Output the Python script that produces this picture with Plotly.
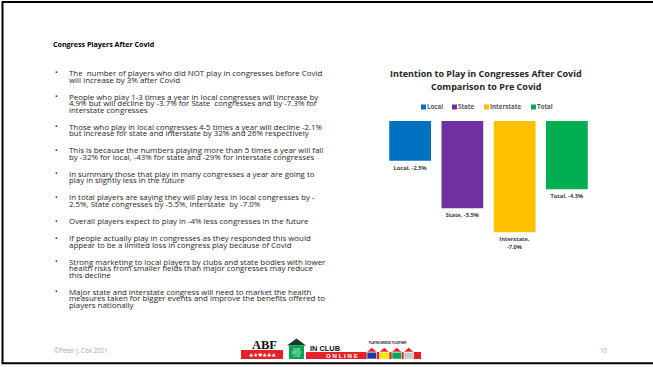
import plotly.graph_objects as go

W, H = 653, 367

# ---- chart data -------------------------------------------------------
categories = ["Local", "State", "Interstate", "Total"]
change_pct = [-2.5, -5.5, -7.0, -4.3]
bar_colors = ["#0070C0", "#7030A0", "#FFC000", "#00B050"]

chart_title = ["Intention to Play in Congresses After Covid", "Comparison to Pre Covid"]

# ---- slide text -------------------------------------------------------
slide_heading = "Congress Players After Covid"
bullets = [
    ["The  number of players who did NOT play in congresses before Covid",
     "will increase by 3% after Covid"],
    ["People who play 1-3 times a year in local congresses will increase by",
     "4.9% but will decline by -3.7% for State  congresses and by -7.3% for",
     "interstate congresses"],
    ["Those who play in local congresses 4-5 times a year will decline -2.1%",
     "but increase for state and interstate by 32% and 26% respectively"],
    ["This is because the numbers playing more than 5 times a year will fall",
     "by -32% for local, -43% for state and -29% for interstate congresses"],
    ["In summary those that play in many congresses a year are going to",
     "play in slightly less in the future"],
    ["In total players are saying they will play less in local congresses by -",
     "2.5%, State congresses by -5.5%, interstate  by -7.0%"],
    ["Overall players expect to play in -4% less congresses in the future"],
    ["If people actually play in congresses as they responded this would",
     "appear to be a limited loss in congress play because of Covid"],
    ["Strong marketing to local players by clubs and state bodies with lower",
     "health risks from smaller fields than major congresses may reduce",
     "this decline"],
    ["Major state and interstate congress will need to market the health",
     "measures taken for bigger events and improve the benefits offered to",
     "players nationally"],
]
footer_left = "©Peter J. Cox 2021"
page_number = "10"

BODY_FONT = "Open Sans, Noto Sans, sans-serif"
CHART_FONT = "Open Sans, Noto Sans, sans-serif"


def px(x):
    return x / W


def py(y):
    return 1 - y / H


annotations = []
shapes = []


def text(x, y, s, size, color="#262626", anchor="left", family=BODY_FONT, **kw):
    if anchor == "left":
        x -= 2.5  # annotation box padding
    annotations.append(dict(
        x=px(x), y=py(y), xref="paper", yref="paper", text=s, showarrow=False,
        xanchor=anchor, yanchor="middle",
        font=dict(family=family, size=size, color=color), **kw))


def rect(x0, y0, x1, y1, fill, line_color=None, line_width=0):
    shapes.append(dict(
        type="rect", xref="paper", yref="paper",
        x0=px(x0), x1=px(x1), y0=py(y1), y1=py(y0),
        fillcolor=fill, line=dict(color=line_color or fill, width=line_width)))


def poly(points, fill, line_color=None, line_width=0):
    path = "M " + " L ".join(f"{px(x)},{py(y)}" for x, y in points) + " Z"
    shapes.append(dict(
        type="path", xref="paper", yref="paper", path=path,
        fillcolor=fill, line=dict(color=line_color or fill, width=line_width)))


# ---- bar chart --------------------------------------------------------
labels = []
for name, v in zip(categories, change_pct):
    sep = ",<br>" if len(name) > 6 else ", "
    labels.append(f"<b>{name}{sep}{v:.1f}%</b>")

fig = go.Figure(go.Bar(
    x=categories, y=change_pct, width=0.8,
    marker=dict(color=bar_colors, line=dict(width=0)),
    text=labels, textposition="outside", cliponaxis=False,
    constraintext="none",
    textfont=dict(family=CHART_FONT, size=5.7, color="#404040"),
    hoverinfo="skip", showlegend=False,
))

# ---- chart title and legend ------------------------------------------
text(486, 73.5, f"<b>{chart_title[0]}</b>", 9, color="#262626", anchor="center",
     family=CHART_FONT)
text(486, 86, f"<b>{chart_title[1]}</b>", 9, color="#262626", anchor="center",
     family=CHART_FONT)

legend_x = [421, 452, 484, 531]
for lx, name, col in zip(legend_x, categories, bar_colors):
    rect(lx, 104.5, lx + 5, 109.5, col)
    text(lx + 6.5, 107, f"<b>{name}</b>", 6.2, color="#595959", family=CHART_FONT)

# ---- slide text -------------------------------------------------------
text(53, 44, f"<b>{slide_heading}</b>", 7.1, color="#000000")

LINE = 6.5
GAP = 17.1
y = 73
for para in bullets:
    text(55, y, "•", 7, color="#262626")
    for i, line in enumerate(para):
        text(69, y, line, 7.9, color="#262626")
        if i < len(para) - 1:
            y += LINE
    y += GAP

# ---- footer -----------------------------------------------------------
text(54, 350, footer_left, 6.2, color="#A6A6A6")
text(600, 350, page_number, 6.2, color="#A6A6A6")

# logo: ABF block
text(264.5, 345, "<b>ABF</b>", 12.5, color="#111111", anchor="center",
     family="Liberation Serif, DejaVu Serif, serif")
rect(241, 350, 283, 359, "#E42228")
text(262, 354.6, "♣♦♥♠♣♠", 5, color="#FFFFFF", anchor="center",
     family="DejaVu Sans, sans-serif")
# house with club badge
poly([(287, 345.5), (296.5, 338.5), (306, 345.5)], "#1B3B22")
rect(289, 345.5, 304, 359, "#00A651")
text(296.5, 350, "YOUR", 2.6, color="#FFFFFF", anchor="center")
text(296.5, 353, "BRIDGE", 2.6, color="#FFFFFF", anchor="center")
text(296.5, 356, "CLUB", 2.6, color="#FFFFFF", anchor="center")
text(310, 348.3, "<b>IN CLUB</b>", 7.4, color="#111111",
     family="Liberation Sans, Arial, sans-serif")
rect(306, 352, 421, 359, "#E42228")
text(342, 355.6, "<b>O N L I N E</b>", 6.2, color="#FFFFFF", anchor="center",
     family="Liberation Sans, Arial, sans-serif")
text(387, 343, "<b>PLAYING BRIDGE TOGETHER</b>", 2.6, color="#111111", anchor="center",
     family="Liberation Sans, Arial, sans-serif")
for hx, hc in zip([367, 379.5, 392, 404], ["#1E3A9A", "#FFE600", "#00A651", "#C9C9C9"]):
    rect(hx, 352, hx + 9.5, 359, hc, line_color="#FFFFFF", line_width=0.6)
    poly([(hx - 0.5, 352), (hx + 4.75, 347.5), (hx + 10, 352)], "#E42228",
         line_color="#FFFFFF", line_width=0.6)

# slide frame
shapes.append(dict(type="rect", xref="paper", yref="paper",
                   x0=px(2.5), x1=px(700), y0=py(363.3), y1=py(2),
                   line=dict(color="#000000", width=2), fillcolor="rgba(0,0,0,0)",
                   layer="above"))

# ---- layout -----------------------------------------------------------
fig.update_layout(
    width=W, height=H,
    margin=dict(l=0, r=0, t=0, b=0),
    paper_bgcolor="#FFFFFF", plot_bgcolor="rgba(0,0,0,0)",
    xaxis=dict(domain=[px(384), px(593)], range=[-0.5, 3.5],
               visible=False, fixedrange=True),
    yaxis=dict(domain=[py(248), py(121)], range=[-8, 0],
               visible=False, fixedrange=True),
    annotations=annotations,
    shapes=shapes,
    showlegend=False,
)

fig.write_html("out.html")
